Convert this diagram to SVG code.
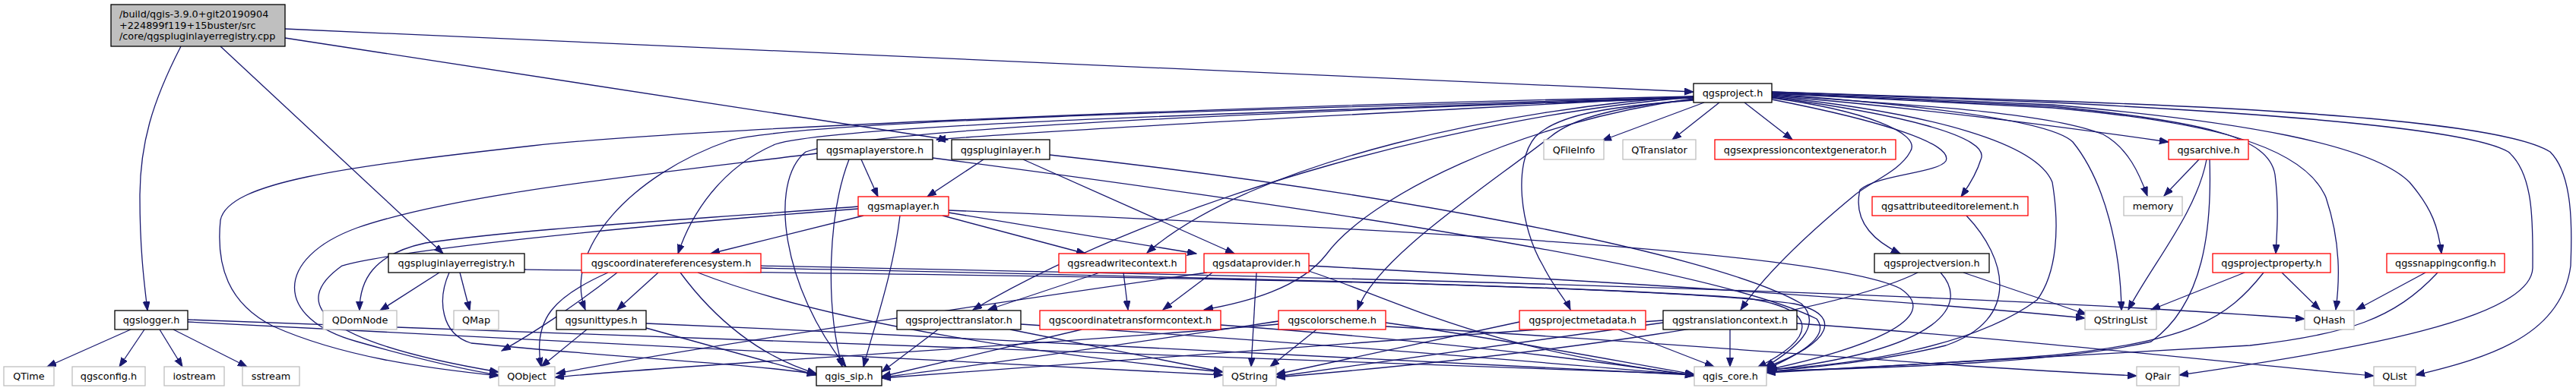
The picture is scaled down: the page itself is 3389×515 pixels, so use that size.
<svg xmlns="http://www.w3.org/2000/svg" width="3389" height="515" viewBox="0 0 3389 515">
<style>
rect{stroke-width:1.3}
.b{fill:#fff;stroke:#000}
.r{fill:#fff;stroke:#ff0000}
.g{fill:#fff;stroke:#bfbfbf}
.root{fill:#bfbfbf;stroke:#000}
text{font-family:"DejaVu Sans",Verdana,sans-serif;font-size:12.8px;fill:#000}
.c{text-anchor:middle}
#edges path{fill:none;stroke:#191970;stroke-width:1.3}
</style>
<defs>
<marker id="a" markerUnits="userSpaceOnUse" markerWidth="13" markerHeight="10" refX="12" refY="4.5" orient="auto">
<path d="M0,0 L12,4.5 L0,9 z" fill="#191970" stroke="#191970" stroke-width="1"/>
</marker>
</defs>
<rect width="3389" height="515" fill="#fff"/>
<g id="edges" marker-end="url(#a)">
<path d="M375,38 L2228,121"/>
<path d="M375,50 L1247,184"/>
<path d="M290,61 L583,334"/>
<path d="M238,61 C200,135 184,190 184,260 C184,330 190,375 194,409"/>
<path d="M172,434 L62,483"/>
<path d="M190,434 L157,483"/>
<path d="M210,434 L240,483"/>
<path d="M228,434 L325,483"/>
<path d="M247,424 L1609,494"/>
<path d="M247,421 L2229,493"/>
<path d="M578,359 L500,409"/>
<path d="M605,359 L618,409"/>
<path d="M591,359 C575,395 580,440 620,452 C800,470 1000,480 1074,493"/>
<path d="M690,355 C1300,362 2000,370 2300,393 C2395,408 2390,445 2312,484"/>
<path d="M812,359 C760,400 700,440 660,462"/>
<path d="M800,359 C730,390 700,420 712,483"/>
<path d="M866,359 L812,408"/>
<path d="M895,359 C940,420 1000,470 1074,492"/>
<path d="M918,359 C1100,430 1400,470 1609,490"/>
<path d="M1001,350 C1600,362 2500,380 3032,420"/>
<path d="M1001,353 C1600,366 2200,378 2360,400 C2425,414 2412,452 2322,484"/>
<path d="M772,434 L712,483"/>
<path d="M850,432 L1074,494"/>
<path d="M850,426 C1400,450 2000,480 2229,494"/>
<path d="M1133,210 L1155,259"/>
<path d="M1117,210 C1090,280 1085,400 1108,483"/>
<path d="M1075,202 C850,230 600,255 470,300 C360,340 360,420 470,450 C540,470 600,485 656,494"/>
<path d="M1227,208 C1700,270 2250,350 2390,420 C2410,445 2360,470 2324,486"/>
<path d="M1294,210 L1220,259"/>
<path d="M1346,210 L1624,334"/>
<path d="M1381,204 C1800,250 2250,330 2370,400 C2400,430 2360,460 2322,484"/>
<path d="M1136,284 L935,334"/>
<path d="M1184,284 C1175,360 1150,430 1136,483"/>
<path d="M1240,284 L1428,334"/>
<path d="M1248,280 L1574,334"/>
<path d="M1129,272 C900,290 700,300 560,320 C490,335 473,370 473,409"/>
<path d="M1129,275 C800,300 520,330 450,350 C380,400 420,450 656,490"/>
<path d="M1248,277 C1800,300 2400,330 2500,380 C2560,420 2450,460 2326,487"/>
<path d="M1447,359 L1300,408"/>
<path d="M1478,359 L1484,408"/>
<path d="M1595,359 L1530,408"/>
<path d="M1588,359 C1300,400 900,460 732,492"/>
<path d="M1653,359 L1646,483"/>
<path d="M1722,350 C2100,370 2500,395 2743,419"/>
<path d="M1722,357 C1850,400 1950,460 2229,494"/>
<path d="M1234,434 L1160,490"/>
<path d="M1329,434 L1609,490"/>
<path d="M1343,427 C1700,450 2000,475 2229,494"/>
<path d="M1423,434 L1160,496"/>
<path d="M1606,428 C1900,450 2100,475 2229,495"/>
<path d="M1732,434 L1671,483"/>
<path d="M1682,423 C1500,450 1300,480 1160,497"/>
<path d="M1682,427 C1300,460 900,480 730,497"/>
<path d="M1823,430 C2200,450 2500,480 2811,495"/>
<path d="M1823,425 C2000,450 2150,480 2229,493"/>
<path d="M1999,424 L1679,493"/>
<path d="M2129,434 L2255,483"/>
<path d="M2276,434 L2276,483"/>
<path d="M2188,425 L1679,496"/>
<path d="M2188,422 C1800,450 1400,480 1160,498"/>
<path d="M2364,426 C2700,450 2950,480 3123,495"/>
<path d="M2583,359 L2745,414"/>
<path d="M2523,359 C2400,420 2000,470 1679,497"/>
<path d="M2553,359 C2590,400 2560,460 2324,488"/>
<path d="M2587,284 C2640,340 2660,420 2560,455 C2480,475 2400,482 2324,490"/>
<path d="M2893,210 L2847,258"/>
<path d="M2903,210 C2890,280 2830,350 2800,408"/>
<path d="M2907,210 C2910,300 2900,400 2830,450 C2700,480 2450,485 2324,489"/>
<path d="M3002,359 L3052,408"/>
<path d="M2953,359 L2830,408"/>
<path d="M2978,359 C2930,420 2880,450 2700,468 C2550,480 2400,486 2324,490"/>
<path d="M3191,359 L3100,408"/>
<path d="M3207,359 C3150,420 3090,440 2960,455 C2700,470 2450,484 2324,491"/>
<path d="M2242,135 L2108,185"/>
<path d="M2262,135 L2200,184"/>
<path d="M2295,135 L2358,184"/>
<path d="M2228,127 C1800,150 1400,170 1232,184"/>
<path d="M2228,128 C1600,150 1100,165 1020,190 C950,220 910,280 892,334"/>
<path d="M2228,129 C1600,150 1150,170 1060,200 C1010,240 1030,380 1113,483"/>
<path d="M2228,128 C1600,145 1050,160 960,185 C830,230 740,330 770,408"/>
<path d="M2228,127 C1600,140 900,170 700,192 C450,220 300,240 290,290 C284,350 300,400 360,430 C450,470 560,485 656,495"/>
<path d="M2228,127 C2000,140 1650,210 1509,333"/>
<path d="M2228,128 C1950,150 1550,250 1280,408"/>
<path d="M2228,130 C2000,160 1800,260 1745,335 C1710,380 1640,398 1584,408"/>
<path d="M2228,131 C2130,140 2070,155 2040,180 C1950,250 1810,340 1786,408"/>
<path d="M2228,132 C2120,140 2050,150 2020,180 C1990,215 2000,300 2030,350 C2045,380 2060,395 2066,408"/>
<path d="M2331,129 C2450,145 2530,175 2513,200 C2500,225 2460,240 2440,257 C2400,290 2330,350 2290,408"/>
<path d="M2331,131 C2480,160 2570,190 2560,212 C2550,228 2470,230 2447,250 C2440,280 2450,310 2500,334"/>
<path d="M2331,128 C2500,150 2620,180 2606,210 C2600,230 2590,245 2580,259"/>
<path d="M2331,126 C2500,140 2700,165 2853,187"/>
<path d="M2331,125 C2550,140 2700,150 2767,177 C2800,195 2815,230 2825,258"/>
<path d="M2331,124 C2550,140 2700,160 2727,187 C2770,240 2790,330 2791,409"/>
<path d="M2331,127 C2550,150 2680,190 2700,240 C2710,300 2706,360 2680,395 C2600,455 2450,480 2324,487"/>
<path d="M2331,123 L2700,140 C2900,160 2985,180 2993,230 C2998,270 2996,300 2994,334"/>
<path d="M2331,123 L2700,142 C2900,160 3030,190 3060,260 C3080,320 3078,370 3073,408"/>
<path d="M2331,122 L2700,138 C2950,160 3120,190 3170,240 C3200,275 3208,300 3212,334"/>
<path d="M2331,121 L2700,135 C3000,150 3250,170 3300,200 C3335,230 3332,300 3332,353 C3330,420 3100,460 2867,494"/>
<path d="M2331,121 L2700,133 C3050,145 3300,165 3355,200 C3385,230 3384,300 3382,350 C3370,440 3280,470 3178,494"/>
</g>
<g id="n_root"><rect class="root" x="146" y="6" width="229" height="55"/><text x="157" y="23">/build/qgis-3.9.0+git20190904</text><text x="157" y="37.5">+224899f119+15buster/src</text><text x="157" y="52">/core/qgspluginlayerregistry.cpp</text></g>
<g id="n_qgsproject"><rect class="b" x="2228" y="110" width="103" height="25"/><text class="c" x="2279.5" y="127">qgsproject.h</text></g>
<g id="n_qgsmaplayerstore"><rect class="b" x="1075" y="184" width="152" height="26"/><text class="c" x="1151" y="201.5">qgsmaplayerstore.h</text></g>
<g id="n_qgspluginlayer"><rect class="b" x="1252" y="184" width="129" height="26"/><text class="c" x="1316.5" y="201.5">qgspluginlayer.h</text></g>
<g id="n_QFileInfo"><rect class="g" x="2031" y="184" width="79" height="26"/><text class="c" x="2070.5" y="201.5">QFileInfo</text></g>
<g id="n_QTranslator"><rect class="g" x="2135" y="184" width="96" height="26"/><text class="c" x="2183" y="201.5">QTranslator</text></g>
<g id="n_qgsexpressioncontextgenerator"><rect class="r" x="2256" y="184" width="238" height="26"/><text class="c" x="2375" y="201.5">qgsexpressioncontextgenerator.h</text></g>
<g id="n_qgsarchive"><rect class="r" x="2853" y="184" width="105" height="26"/><text class="c" x="2905.5" y="201.5">qgsarchive.h</text></g>
<g id="n_qgsmaplayer"><rect class="r" x="1129" y="259" width="119" height="25"/><text class="c" x="1188.5" y="276">qgsmaplayer.h</text></g>
<g id="n_qgsattributeeditorelement"><rect class="r" x="2463" y="259" width="205" height="25"/><text class="c" x="2565.5" y="276">qgsattributeeditorelement.h</text></g>
<g id="n_memory"><rect class="g" x="2794" y="259" width="77" height="25"/><text class="c" x="2832.5" y="276">memory</text></g>
<g id="n_qgspluginlayerregistry"><rect class="b" x="511" y="334" width="179" height="25"/><text class="c" x="600.5" y="351">qgspluginlayerregistry.h</text></g>
<g id="n_qgscoordinatereferencesystem"><rect class="r" x="765" y="334" width="236" height="25"/><text class="c" x="883" y="351">qgscoordinatereferencesystem.h</text></g>
<g id="n_qgsreadwritecontext"><rect class="r" x="1393" y="334" width="167" height="25"/><text class="c" x="1476.5" y="351">qgsreadwritecontext.h</text></g>
<g id="n_qgsdataprovider"><rect class="r" x="1584" y="334" width="138" height="25"/><text class="c" x="1653" y="351">qgsdataprovider.h</text></g>
<g id="n_qgsprojectversion"><rect class="b" x="2466" y="334" width="151" height="25"/><text class="c" x="2541.5" y="351">qgsprojectversion.h</text></g>
<g id="n_qgsprojectproperty"><rect class="r" x="2911" y="334" width="155" height="25"/><text class="c" x="2988.5" y="351">qgsprojectproperty.h</text></g>
<g id="n_qgssnappingconfig"><rect class="r" x="3140" y="334" width="155" height="25"/><text class="c" x="3217.5" y="351">qgssnappingconfig.h</text></g>
<g id="n_qgslogger"><rect class="b" x="151" y="409" width="96" height="25"/><text class="c" x="199" y="426">qgslogger.h</text></g>
<g id="n_QDomNode"><rect class="g" x="425" y="409" width="97" height="25"/><text class="c" x="473.5" y="426">QDomNode</text></g>
<g id="n_QMap"><rect class="g" x="597" y="409" width="59" height="25"/><text class="c" x="626.5" y="426">QMap</text></g>
<g id="n_qgsunittypes"><rect class="b" x="732" y="409" width="118" height="25"/><text class="c" x="791" y="426">qgsunittypes.h</text></g>
<g id="n_qgsprojecttranslator"><rect class="b" x="1180" y="409" width="163" height="25"/><text class="c" x="1261.5" y="426">qgsprojecttranslator.h</text></g>
<g id="n_qgscoordinatetransformcontext"><rect class="r" x="1368" y="409" width="238" height="25"/><text class="c" x="1487" y="426">qgscoordinatetransformcontext.h</text></g>
<g id="n_qgscolorscheme"><rect class="r" x="1682" y="409" width="141" height="25"/><text class="c" x="1752.5" y="426">qgscolorscheme.h</text></g>
<g id="n_qgsprojectmetadata"><rect class="r" x="1999" y="409" width="166" height="25"/><text class="c" x="2082" y="426">qgsprojectmetadata.h</text></g>
<g id="n_qgstranslationcontext"><rect class="b" x="2188" y="409" width="176" height="25"/><text class="c" x="2276" y="426">qgstranslationcontext.h</text></g>
<g id="n_QStringList"><rect class="g" x="2743" y="409" width="94" height="25"/><text class="c" x="2790" y="426">QStringList</text></g>
<g id="n_QHash"><rect class="g" x="3032" y="409" width="65" height="25"/><text class="c" x="3064.5" y="426">QHash</text></g>
<g id="n_QTime"><rect class="g" x="5" y="483" width="66" height="25"/><text class="c" x="38" y="500">QTime</text></g>
<g id="n_qgsconfig"><rect class="g" x="95" y="483" width="96" height="25"/><text class="c" x="143" y="500">qgsconfig.h</text></g>
<g id="n_iostream"><rect class="g" x="216" y="483" width="79" height="25"/><text class="c" x="255.5" y="500">iostream</text></g>
<g id="n_sstream"><rect class="g" x="319" y="483" width="75" height="25"/><text class="c" x="356.5" y="500">sstream</text></g>
<g id="n_QObject"><rect class="g" x="656" y="483" width="74" height="25"/><text class="c" x="693" y="500">QObject</text></g>
<g id="n_qgis_sip"><rect class="b" x="1074" y="483" width="86" height="25"/><text class="c" x="1117" y="500">qgis_sip.h</text></g>
<g id="n_QString"><rect class="g" x="1609" y="483" width="70" height="25"/><text class="c" x="1644" y="500">QString</text></g>
<g id="n_qgis_core"><rect class="g" x="2229" y="483" width="95" height="25"/><text class="c" x="2276.5" y="500">qgis_core.h</text></g>
<g id="n_QPair"><rect class="g" x="2811" y="483" width="56" height="25"/><text class="c" x="2839" y="500">QPair</text></g>
<g id="n_QList"><rect class="g" x="3123" y="483" width="55" height="25"/><text class="c" x="3150.5" y="500">QList</text></g>
</svg>
